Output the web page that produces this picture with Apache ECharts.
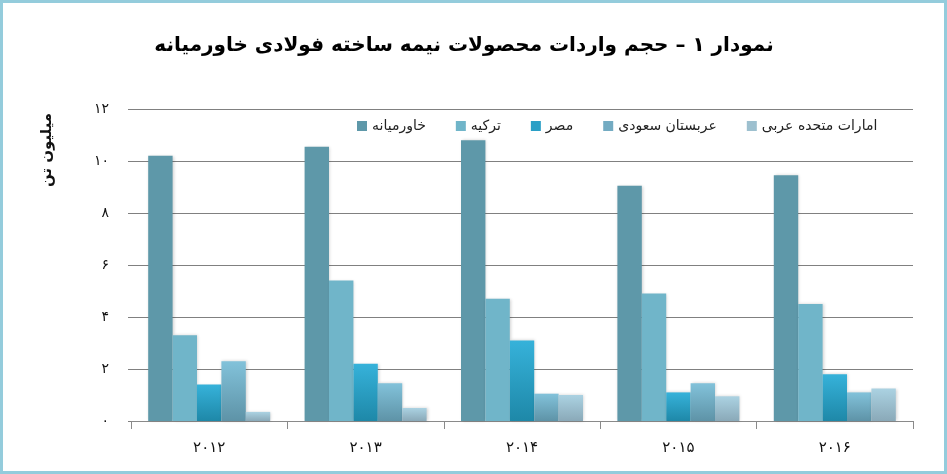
<!DOCTYPE html>
<html lang="fa">
<head>
	<meta charset="utf-8" />
	<title>نمودار ۱</title>
	<style>
		html, body { margin: 0; padding: 0; background: #fff; }
		#chart { width: 947px; height: 474px; }
	</style>
</head>
<body>
	<div id="chart"></div>
	<script src="https://cdn.jsdelivr.net/npm/echarts@6/dist/echarts.min.js"></script>
	<script>
		// داده‌ها (میلیون تن)
		var years = ['۲۰۱۲', '۲۰۱۳', '۲۰۱۴', '۲۰۱۵', '۲۰۱۶'];
		var yTickLabels = ['۰', '۲', '۴', '۶', '۸', '۱۰', '۱۲'];
		var seriesNames = ['خاورمیانه', 'ترکیه', 'مصر', 'عربستان سعودی', 'امارات متحده عربی'];
		var middleEast = [10.2, 10.55, 10.8, 9.05, 9.45];
		var turkey = [3.3, 5.4, 4.7, 4.9, 4.5];
		var egypt = [1.4, 2.2, 3.1, 1.1, 1.8];
		var saudi = [2.3, 1.45, 1.05, 1.45, 1.1];
		var uae = [0.35, 0.5, 1.0, 0.95, 1.25];

		var font = "'DejaVu Sans', sans-serif";

		function grad(top, bottom) {
			return new echarts.graphic.LinearGradient(0, 0, 0, 1, [
				{offset: 0, color: top},
				{offset: 1, color: bottom}
			]);
		}

		var colors = [
			'#5E98A9',
			'#70B5C9',
			grad('#36B2DA', '#1E88A8'),
			grad('#82C2DA', '#5E93A7'),
			grad('#ABD2E2', '#8AA9B8')
		];
		var legendColors = ['#5E98A9', '#70B5C9', '#2A9FC6', '#73ABC2', '#9DC0CF'];

		var dataList = [middleEast, turkey, egypt, saudi, uae];

		var dom = document.getElementById('chart');
		var myChart = echarts.init(dom);

		var series = dataList.map(function (d, i) {
			return {
				name: seriesNames[i],
				type: 'bar',
				data: d,
				barGap: '0%',
				barCategoryGap: '22%',
				itemStyle: {
					color: colors[i],
					shadowBlur: 3,
					shadowColor: 'rgba(0,0,0,0.18)',
					shadowOffsetX: 1
				},
				animation: false
			};
		});

		var option = {
			backgroundColor: '#fff',
			title: {
				text: 'نمودار ۱ – حجم واردات محصولات نیمه ساخته فولادی خاورمیانه',
				left: 459,
				top: 31,
				textAlign: 'center',
				textStyle: {
					fontFamily: font,
					fontWeight: 'bold',
					fontSize: 20,
					color: '#000'
				}
			},
			legend: {
				data: seriesNames.map(function (n, i) {
					return {name: n, itemStyle: {color: legendColors[i]}};
				}),
				left: 352,
				top: 114,
				icon: 'rect',
				itemWidth: 10,
				itemHeight: 10,
				itemGap: 30,
				textStyle: {
					fontFamily: font,
					fontSize: 14,
					color: '#222'
				}
			},
			grid: {
				left: 131,
				right: 34,
				top: 109,
				bottom: 53
			},
			xAxis: {
				type: 'category',
				data: years,
				axisLine: {lineStyle: {color: '#8a8a8a', width: 1}},
				axisTick: {show: true, length: 8, lineStyle: {color: '#8a8a8a'}},
				axisLabel: {
					margin: 20,
					fontFamily: font,
					fontSize: 15,
					color: '#111'
				}
			},
			yAxis: {
				type: 'value',
				min: 0,
				max: 12,
				interval: 2,
				axisLine: {show: false},
				axisTick: {show: true, length: 3, lineStyle: {color: '#808080'}},
				splitLine: {lineStyle: {color: '#808080', width: 1}},
				axisLabel: {
					margin: 22,
					fontFamily: font,
					fontSize: 14,
					color: '#111',
					formatter: function (v) {
						return yTickLabels[Math.round(v / 2)];
					}
				}
			},
			graphic: [
				{
					type: 'text',
					x: 47,
					y: 150,
					rotation: Math.PI / 2,
					style: {
						text: 'میلیون تن',
						fontFamily: font,
						fontWeight: 'bold',
						fontSize: 15,
						fill: '#111',
						align: 'center',
						verticalAlign: 'middle'
					}
				},
				{
					type: 'rect',
					shape: {x: 1.5, y: 1.5, width: 944, height: 471},
					style: {fill: 'none', stroke: '#94CCDC', lineWidth: 3},
					silent: true
				}
			],
			series: series
		};
		myChart.setOption(option);
	</script>
</body>
</html>
